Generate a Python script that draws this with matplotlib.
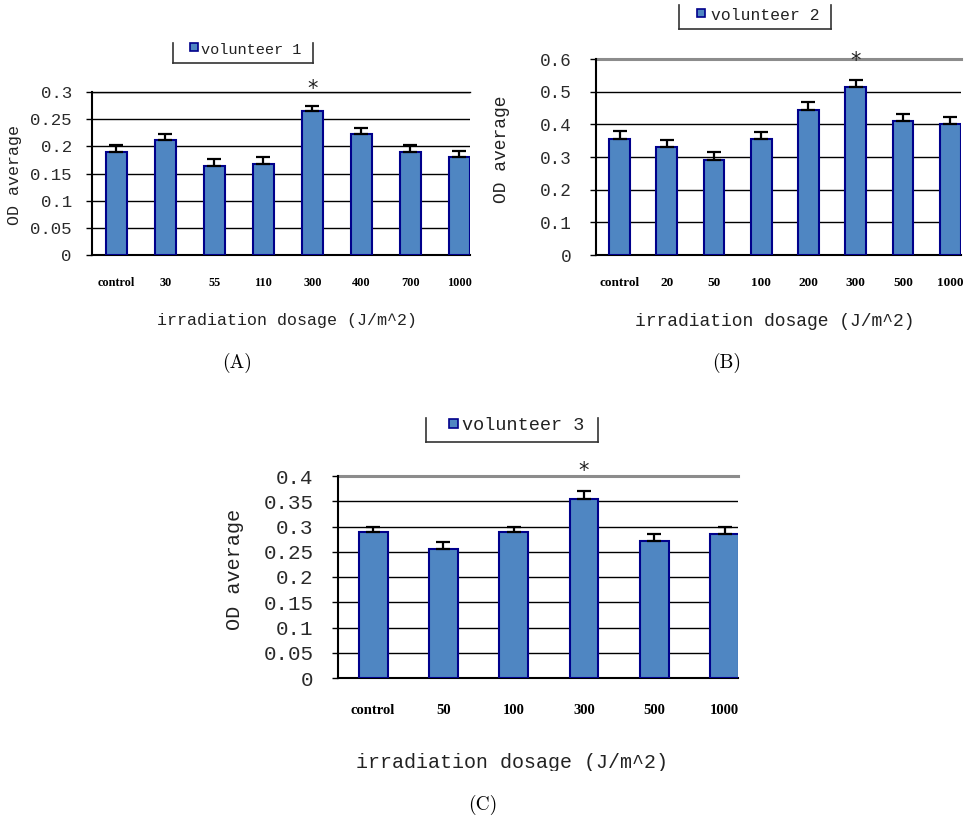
import matplotlib
matplotlib.use("Agg")
import matplotlib.pyplot as plt
from matplotlib.lines import Line2D
from matplotlib.patches import Rectangle
from matplotlib.transforms import Bbox, TransformedBbox

# ---- data -------------------------------------------------------------
doses_a = ['control', '30', '55', '110', '300', '400', '700', '1000']
od_a = [0.190, 0.211, 0.163, 0.168, 0.265, 0.222, 0.190, 0.181]
err_a = [0.012, 0.012, 0.014, 0.012, 0.010, 0.011, 0.012, 0.011]
yticks_a = [0, 0.05, 0.1, 0.15, 0.2, 0.25, 0.3]

doses_b = ['control', '20', '50', '100', '200', '300', '500', '1000']
od_b = [0.354, 0.331, 0.291, 0.354, 0.445, 0.515, 0.409, 0.401]
err_b = [0.026, 0.021, 0.023, 0.022, 0.022, 0.022, 0.022, 0.022]
yticks_b = [0, 0.1, 0.2, 0.3, 0.4, 0.5, 0.6]

doses_c = ['control', '50', '100', '300', '500', '1000']
od_c = [0.290, 0.255, 0.290, 0.355, 0.272, 0.286]
err_c = [0.010, 0.014, 0.009, 0.015, 0.014, 0.014]
yticks_c = [0, 0.05, 0.1, 0.15, 0.2, 0.25, 0.3, 0.35, 0.4]

significant_dose = '300'

# ---- style ------------------------------------------------------------
W, H = 967, 817
FACE = '#4F86C2'
EDGE = '#00008B'
MONO = 'Liberation Mono'
SERIF_B = 'Liberation Serif'

fig = plt.figure(figsize=(W / 100, H / 100), dpi=100)


def fx(x):
    return x / W


def fy(y):
    return 1 - y / H


def panel(box, doses, od, err, yticks, xlim, width, sizes, top_grey,
          star_y, legend, ylab_xy, xlab_xy, xlab_clip, tag_xy, tag):
    left, top, right, bottom = box
    tick_fs, cat_fs, ylab_fs, xlab_fs, leg_fs, ypad, xpad = sizes
    ax = fig.add_axes([fx(left), fy(bottom), (right - left) / W,
                       (bottom - top) / H])
    x = list(range(len(doses)))
    ax.bar(x, od, width=width, color=FACE, edgecolor=EDGE, linewidth=1.5,
           zorder=3)
    ax.errorbar(x, od, yerr=[[0] * len(err), err], fmt='none',
                ecolor='black', elinewidth=1.6, capsize=4.8, capthick=1.6,
                zorder=4)
    ax.set_xlim(*xlim)
    ax.set_ylim(yticks[0], yticks[-1])
    ax.set_yticks(yticks)
    ax.set_yticklabels([f'{v:g}' for v in yticks], fontfamily=MONO,
                       fontsize=tick_fs, color='#2a2a2a')
    ax.set_xticks(x)
    ax.set_xticklabels(doses, fontfamily=SERIF_B, fontweight='bold',
                       fontsize=cat_fs)
    ax.tick_params(axis='x', length=0, pad=xpad)
    ax.tick_params(axis='y', direction='out', length=4.5, width=1.0,
                   pad=ypad)
    ax.yaxis.grid(True, color='black', linewidth=1.0, zorder=0)
    ax.set_axisbelow(True)
    for s in ('top', 'right'):
        ax.spines[s].set_visible(False)
    for s in ('left', 'bottom'):
        ax.spines[s].set_linewidth(1.5)
        ax.spines[s].set_color('black')
    ax.axhline(yticks[-1], color='#8C8C8C' if top_grey else 'black',
               linewidth=2.2 if top_grey else 1.0, clip_on=False, zorder=1)

    i = doses.index(significant_dose)
    ax.text(i, star_y, '*', ha='center', va='center', fontsize=15,
            fontfamily='DejaVu Sans', color='#222222')

    # legend box (open at the top)
    lx0, lx1, ly0, ly1, sq, txt_x, txt_y, label = legend
    for seg in ([(lx0, ly0), (lx0, ly1)], [(lx0, ly1), (lx1, ly1)],
                [(lx1, ly1), (lx1, ly0)]):
        fig.add_artist(Line2D([fx(p[0]) for p in seg], [fy(p[1]) for p in seg],
                              color='#333333', linewidth=1.2))
    sx0, sy0, ss = sq
    fig.add_artist(Rectangle((fx(sx0), fy(sy0 + ss)), ss / W, ss / H,
                             facecolor=FACE, edgecolor=EDGE, linewidth=1.2,
                             transform=fig.transFigure))
    fig.text(fx(txt_x), fy(txt_y), label, ha='left', va='center',
             fontfamily=MONO, fontsize=leg_fs, color='#222222')

    fig.text(fx(ylab_xy[0]), fy(ylab_xy[1]), 'OD average', rotation=90,
             ha='center', va='center', fontfamily=MONO, fontsize=ylab_fs,
             color='#222222')
    t = fig.text(fx(xlab_xy[0]), fy(xlab_xy[1]), 'irradiation dosage (J/m^2)',
                 ha='center', va='center', fontfamily=MONO, fontsize=xlab_fs,
                 color='#222222')
    t.set_clip_box(TransformedBbox(
        Bbox.from_extents(0, fy(xlab_clip), 1, 1), fig.transFigure))
    t.set_clip_on(True)

    fig.text(fx(tag_xy[0]), fy(tag_xy[1]), tag, ha='center', va='center',
             fontfamily='cmr10', fontsize=14)
    return ax


panel((92, 92, 470, 255), doses_a, od_a, err_a, yticks_a,
      (-0.5, 7.22), 0.43, (12.5, 8.8, 12, 12, 11, 10, 16), False, 0.306,
      (173, 313, 43, 63, (190, 43, 8), 201, 50, 'volunteer 1'),
      (15, 175), (287, 320), 328, (237, 363), '(A)')

panel((596, 59, 961, 255), doses_b, od_b, err_b, yticks_b,
      (-0.5, 7.23), 0.44, (12.7, 9.5, 13, 13, 11.8, 13, 16), True, 0.593,
      (679, 831, 5, 29, (697, 9, 8), 711, 15, 'volunteer 2'),
      (502, 149), (775, 321), 330, (727, 363), '(B)')

panel((338, 476, 738, 678), doses_c, od_c, err_c, yticks_c,
      (-0.5, 5.19), 0.41, (15, 10.5, 14.5, 14.4, 13.3, 13, 19), True, 0.41,
      (426, 598, 418, 442, (449, 419, 9), 462, 425, 'volunteer 3'),
      (235, 569), (512, 763), 771, (483, 805), '(C)')

fig.savefig('out.png', dpi=100)
